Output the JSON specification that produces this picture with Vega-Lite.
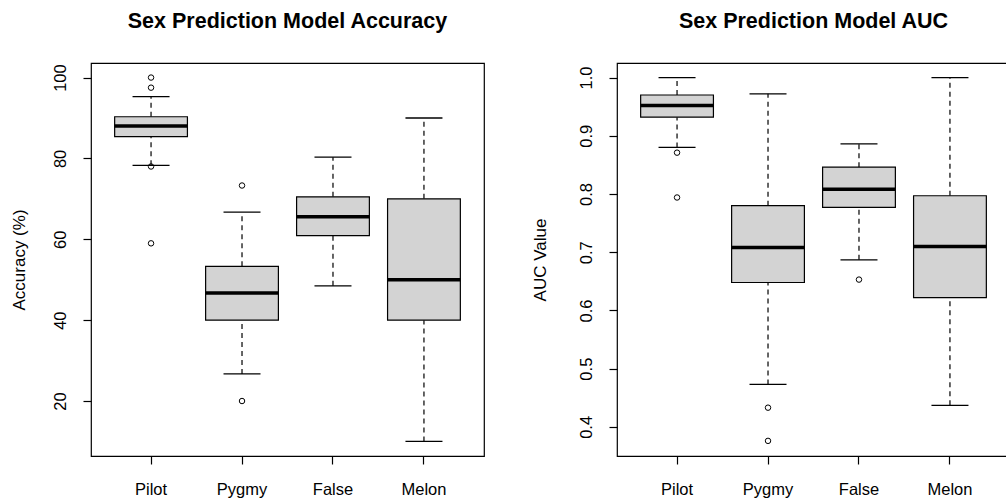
{
  "$schema": "https://vega.github.io/schema/vega-lite/v6.json",
  "padding": {"left": 9, "top": 9, "right": 0, "bottom": 0},
  "background": "white",
  "datasets": {
    "boxes": [
      {"panel": "acc", "group": "Pilot", "lo": 78.3, "q1": 85.4, "med": 88.0, "q3": 90.3, "hi": 95.3},
      {"panel": "acc", "group": "Pygmy", "lo": 26.7, "q1": 40.0, "med": 46.7, "q3": 53.3, "hi": 66.7},
      {"panel": "acc", "group": "False", "lo": 48.5, "q1": 60.9, "med": 65.6, "q3": 70.5, "hi": 80.3},
      {"panel": "acc", "group": "Melon", "lo": 10.0, "q1": 40.0, "med": 50.0, "q3": 70.0, "hi": 90.0},
      {"panel": "auc", "group": "Pilot", "lo": 0.880, "q1": 0.932, "med": 0.952, "q3": 0.970, "hi": 1.0},
      {"panel": "auc", "group": "Pygmy", "lo": 0.473, "q1": 0.648, "med": 0.708, "q3": 0.780, "hi": 0.972},
      {"panel": "auc", "group": "False", "lo": 0.687, "q1": 0.777, "med": 0.808, "q3": 0.846, "hi": 0.886},
      {"panel": "auc", "group": "Melon", "lo": 0.437, "q1": 0.622, "med": 0.710, "q3": 0.797, "hi": 1.0}
    ],
    "outliers": [
      {"panel": "acc", "group": "Pilot", "value": 100.0},
      {"panel": "acc", "group": "Pilot", "value": 97.5},
      {"panel": "acc", "group": "Pilot", "value": 78.0},
      {"panel": "acc", "group": "Pilot", "value": 59.0},
      {"panel": "acc", "group": "Pygmy", "value": 73.3},
      {"panel": "acc", "group": "Pygmy", "value": 20.0},
      {"panel": "auc", "group": "Pilot", "value": 0.871},
      {"panel": "auc", "group": "Pilot", "value": 0.794},
      {"panel": "auc", "group": "Pygmy", "value": 0.433},
      {"panel": "auc", "group": "Pygmy", "value": 0.376},
      {"panel": "auc", "group": "False", "value": 0.653}
    ]
  },
  "hconcat": [
    {
      "width": 393,
      "height": 393,
      "title": {"text": "Sex Prediction Model Accuracy"},
      "encoding": {
        "x": {
          "field": "group", "type": "nominal",
          "sort": ["Pilot", "Pygmy", "False", "Melon"],
          "scale": {"paddingInner": 0, "paddingOuter": 0.16},
          "axis": {"title": null, "labelAngle": 0, "domain": false, "labelBaseline": "alphabetic", "labelPadding": 30}
        }
      },
      "layer": [
        {
          "data": {"name": "boxes"},
          "transform": [{"filter": "datum.panel === 'acc'"}],
          "mark": {"type": "rule", "color": "black", "strokeDash": [5, 4], "strokeWidth": 1.2},
          "encoding": {
            "y": {"field": "lo", "type": "quantitative", "scale": {"domain": [6.4, 103.6], "nice": false, "zero": false},
              "axis": {"title": "Accuracy (%)", "values": [20, 40, 60, 80, 100], "domain": false, "grid": false,
                "labelAngle": 270, "labelAlign": "center", "labelBaseline": "alphabetic", "labelPadding": 18,
                "titleX": -66.8, "titleY": 196.5, "titleAngle": 270, "titleAlign": "center", "titleBaseline": "alphabetic"}},
            "y2": {"field": "q1"}
          }
        },
        {
          "data": {"name": "boxes"},
          "transform": [{"filter": "datum.panel === 'acc'"}],
          "mark": {"type": "rule", "color": "black", "strokeDash": [5, 4], "strokeWidth": 1.2},
          "encoding": {
            "y": {"field": "q3", "type": "quantitative", "scale": {"domain": [6.4, 103.6], "nice": false, "zero": false}},
            "y2": {"field": "hi"}
          }
        },
        {
          "data": {"name": "boxes"},
          "transform": [{"filter": "datum.panel === 'acc'"}],
          "mark": {"type": "tick", "color": "black", "size": 37, "thickness": 1.3, "opacity": 1},
          "encoding": {
            "y": {"field": "lo", "type": "quantitative", "scale": {"domain": [6.4, 103.6], "nice": false, "zero": false}}
          }
        },
        {
          "data": {"name": "boxes"},
          "transform": [{"filter": "datum.panel === 'acc'"}],
          "mark": {"type": "tick", "color": "black", "size": 37, "thickness": 1.3, "opacity": 1},
          "encoding": {
            "y": {"field": "hi", "type": "quantitative", "scale": {"domain": [6.4, 103.6], "nice": false, "zero": false}}
          }
        },
        {
          "data": {"name": "boxes"},
          "transform": [{"filter": "datum.panel === 'acc'"}],
          "mark": {"type": "bar", "fill": "#d3d3d3", "stroke": "black", "strokeWidth": 1.2, "width": {"band": 0.8}, "opacity": 1},
          "encoding": {
            "y": {"field": "q1", "type": "quantitative", "scale": {"domain": [6.4, 103.6], "nice": false, "zero": false}},
            "y2": {"field": "q3"}
          }
        },
        {
          "data": {"name": "boxes"},
          "transform": [{"filter": "datum.panel === 'acc'"}],
          "mark": {"type": "tick", "color": "black", "size": 73, "thickness": 3.5, "opacity": 1},
          "encoding": {
            "y": {"field": "med", "type": "quantitative", "scale": {"domain": [6.4, 103.6], "nice": false, "zero": false}}
          }
        },
        {
          "data": {"name": "outliers"},
          "transform": [{"filter": "datum.panel === 'acc'"}],
          "mark": {"type": "point", "filled": false, "color": "black", "size": 30, "strokeWidth": 1, "opacity": 1},
          "encoding": {
            "y": {"field": "value", "type": "quantitative", "scale": {"domain": [6.4, 103.6], "nice": false, "zero": false}}
          }
        }
      ]
    },
    {
      "width": 393,
      "height": 393,
      "title": {"text": "Sex Prediction Model AUC"},
      "encoding": {
        "x": {
          "field": "group", "type": "nominal",
          "sort": ["Pilot", "Pygmy", "False", "Melon"],
          "scale": {"paddingInner": 0, "paddingOuter": 0.16},
          "axis": {"title": null, "labelAngle": 0, "domain": false, "labelBaseline": "alphabetic", "labelPadding": 30}
        }
      },
      "layer": [
        {
          "data": {"name": "boxes"},
          "transform": [{"filter": "datum.panel === 'auc'"}],
          "mark": {"type": "rule", "color": "black", "strokeDash": [5, 4], "strokeWidth": 1.2},
          "encoding": {
            "y": {"field": "lo", "type": "quantitative", "scale": {"domain": [0.35, 1.025], "nice": false, "zero": false},
              "axis": {"title": "AUC Value", "values": [0.4, 0.5, 0.6, 0.7, 0.8, 0.9, 1.0], "format": ".1f", "domain": false, "grid": false,
                "labelAngle": 270, "labelAlign": "center", "labelBaseline": "alphabetic", "labelPadding": 18,
                "titleX": -71.5, "titleY": 196.5, "titleAngle": 270, "titleAlign": "center", "titleBaseline": "alphabetic"}},
            "y2": {"field": "q1"}
          }
        },
        {
          "data": {"name": "boxes"},
          "transform": [{"filter": "datum.panel === 'auc'"}],
          "mark": {"type": "rule", "color": "black", "strokeDash": [5, 4], "strokeWidth": 1.2},
          "encoding": {
            "y": {"field": "q3", "type": "quantitative", "scale": {"domain": [0.35, 1.025], "nice": false, "zero": false}},
            "y2": {"field": "hi"}
          }
        },
        {
          "data": {"name": "boxes"},
          "transform": [{"filter": "datum.panel === 'auc'"}],
          "mark": {"type": "tick", "color": "black", "size": 37, "thickness": 1.3, "opacity": 1},
          "encoding": {
            "y": {"field": "lo", "type": "quantitative", "scale": {"domain": [0.35, 1.025], "nice": false, "zero": false}}
          }
        },
        {
          "data": {"name": "boxes"},
          "transform": [{"filter": "datum.panel === 'auc'"}],
          "mark": {"type": "tick", "color": "black", "size": 37, "thickness": 1.3, "opacity": 1},
          "encoding": {
            "y": {"field": "hi", "type": "quantitative", "scale": {"domain": [0.35, 1.025], "nice": false, "zero": false}}
          }
        },
        {
          "data": {"name": "boxes"},
          "transform": [{"filter": "datum.panel === 'auc'"}],
          "mark": {"type": "bar", "fill": "#d3d3d3", "stroke": "black", "strokeWidth": 1.2, "width": {"band": 0.8}, "opacity": 1},
          "encoding": {
            "y": {"field": "q1", "type": "quantitative", "scale": {"domain": [0.35, 1.025], "nice": false, "zero": false}},
            "y2": {"field": "q3"}
          }
        },
        {
          "data": {"name": "boxes"},
          "transform": [{"filter": "datum.panel === 'auc'"}],
          "mark": {"type": "tick", "color": "black", "size": 73, "thickness": 3.5, "opacity": 1},
          "encoding": {
            "y": {"field": "med", "type": "quantitative", "scale": {"domain": [0.35, 1.025], "nice": false, "zero": false}}
          }
        },
        {
          "data": {"name": "outliers"},
          "transform": [{"filter": "datum.panel === 'auc'"}],
          "mark": {"type": "point", "filled": false, "color": "black", "size": 30, "strokeWidth": 1, "opacity": 1},
          "encoding": {
            "y": {"field": "value", "type": "quantitative", "scale": {"domain": [0.35, 1.025], "nice": false, "zero": false}}
          }
        }
      ]
    }
  ],
  "spacing": 133,
  "bounds": "flush",
  "config": {
    "font": "Liberation Sans",
    "view": {"stroke": "black", "strokeWidth": 1.2},
    "title": {"fontSize": 21.5, "fontWeight": "bold", "font": "Liberation Sans", "color": "black", "anchor": "middle", "baseline": "alphabetic", "offset": 31},
    "axis": {
      "labelFont": "Liberation Sans", "labelFontSize": 16.5, "labelColor": "black",
      "titleFont": "Liberation Sans", "titleFontSize": 17, "titleFontWeight": "normal", "titleColor": "black",
      "tickColor": "black", "tickSize": 8, "tickWidth": 1.2, "grid": false, "labelOverlap": false
    }
  }
}
